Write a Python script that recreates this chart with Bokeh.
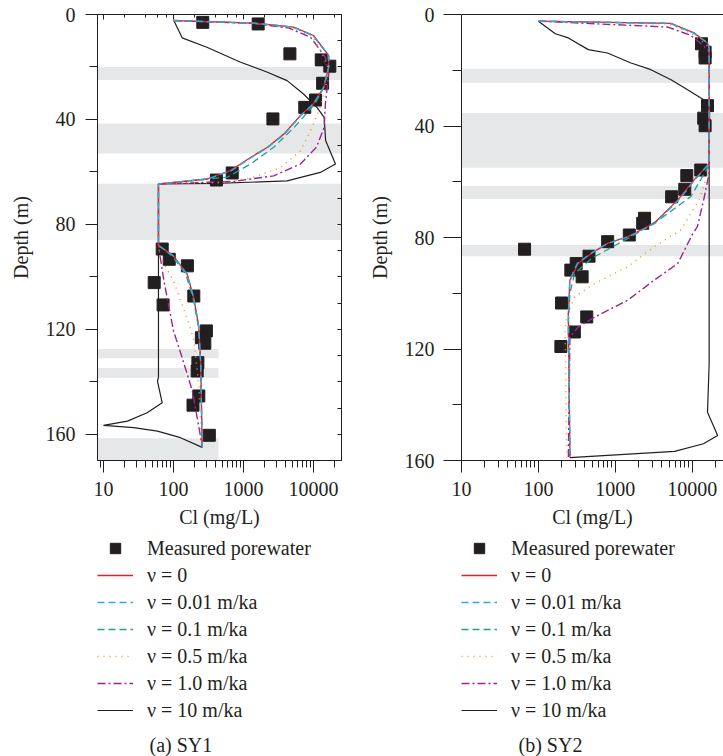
from bokeh.plotting import figure
from bokeh.models import (Range1d, LogAxis, LinearAxis, FixedTicker, LogTicker,
                          NumeralTickFormatter, Legend, LegendItem, Label)
from bokeh.layouts import row, column
from bokeh.embed import file_html
from bokeh.resources import INLINE

FONT = "Liberation Serif"
INK = "#231f20"
BAND = "#e6e7e9"

# ---------------- labels ----------------
series_labels = ["ν = 0", "ν = 0.01 m/ka", "ν = 0.1 m/ka", "ν = 0.5 m/ka",
                 "ν = 1.0 m/ka", "ν = 10 m/ka"]
measured_label = "Measured porewater"
x_label = "Cl (mg/L)"
y_label = "Depth (m)"
captions = ["(a)  SY1", "(b)  SY2"]
depth_ticks = [0, 40, 80, 120, 160]
depth_minor_ticks = [20, 60, 100, 140]

# ---------------- SY1 data ----------------
sy1_meas_cl = [262, 1620, 4600, 12900, 17100, 13500, 10700, 7500, 2630, 690, 410,
               69, 87, 158, 53, 195, 71, 295, 250, 280, 223, 218, 230, 190, 325]
sy1_meas_depth = [3.0, 3.6, 15.0, 17.3, 19.7, 26.2, 32.6, 35.4, 39.8, 60.4, 63.1,
                  89.4, 93.3, 95.8, 102.2, 107.3, 110.7, 120.6, 123.2, 125.3, 132.7,
                  135.9, 145.4, 148.9, 160.4]

sy1_v0_cl = [101, 1400, 5200, 10000, 16500, 16500, 14000, 10000, 6500, 3800, 2200,
             1260, 650, 300, 61, 61, 100, 157, 195, 230, 245, 257]
sy1_v0_depth = [2.3, 3.3, 4.8, 8.0, 15.6, 20.0, 27.7, 34.0, 38.5, 45.5, 50.6,
                54.5, 59.5, 62.7, 64.6, 88.0, 92.0, 99.0, 108.0, 119.0, 133.0, 165.0]

sy1_v001_cl = [101, 1400, 5100, 9900, 16400, 16500, 14000, 10000, 6600, 3900, 2250,
               1300, 670, 310, 61, 61, 99, 156, 194, 229, 245, 257]
sy1_v001_depth = [2.3, 3.3, 4.8, 8.0, 15.6, 20.0, 27.7, 34.0, 38.5, 45.5, 50.6,
                  54.5, 59.5, 62.7, 64.6, 88.0, 92.0, 99.0, 108.0, 119.0, 133.0, 165.0]

sy1_v01_cl = [101, 1400, 5100, 9800, 16400, 16500, 14200, 10500, 7500, 5300, 2700,
              1260, 590, 61, 61, 95, 150, 190, 228, 244, 257]
sy1_v01_depth = [2.3, 3.3, 4.8, 8.0, 15.6, 20.0, 27.7, 34.0, 38.5, 43.0, 50.6,
                 57.0, 62.0, 64.6, 88.0, 92.0, 99.0, 108.0, 119.0, 133.0, 165.0]

sy1_v05_cl = [101, 1400, 5000, 9500, 12600, 16000, 14800, 12000, 9100, 6500, 3400,
              1400, 590, 61, 61, 65, 100, 148, 195, 230, 245, 257]
sy1_v05_depth = [2.3, 3.3, 4.9, 8.3, 13.7, 20.0, 29.0, 36.6, 44.3, 52.0, 58.3,
                 62.0, 64.0, 64.6, 88.0, 92.6, 101.5, 114.0, 124.0, 141.0, 159.0, 165.0]

sy1_v1_cl = [101, 1400, 4500, 9100, 14800, 16500, 14800, 14200, 11000, 6500, 2700,
             730, 61, 61, 73, 100, 133, 186, 245, 257]
sy1_v1_depth = [2.3, 3.4, 5.2, 8.7, 16.3, 22.6, 34.0, 43.0, 50.6, 57.0, 61.5,
                63.6, 64.6, 88.0, 101.5, 120.6, 130.8, 143.5, 161.3, 165.0]

sy1_v10_cl = [101, 133, 300, 910, 2200, 4200, 7200, 11200, 14200, 14900, 20600,
              12500, 4200, 414, 61, 61, 59, 69, 42, 22, 10, 27, 59, 126, 257]
sy1_v10_depth = [2.3, 8.9, 12.5, 18.2, 22.0, 25.2, 30.3, 35.4, 39.2, 48.0, 57.0,
                 60.2, 63.4, 64.4, 64.6, 138.4, 139.7, 148.0, 151.8, 155.0, 156.6,
                 157.5, 158.8, 161.3, 165.0]

# clay layers (grey bands): top depth, bottom depth, right extent (mg/L)
sy1_layer_top = [20.0, 41.5, 64.5, 127.5, 134.7, 161.5]
sy1_layer_bottom = [25.0, 53.0, 86.0, 131.0, 138.5, 170.0]
sy1_layer_right = [25119, 25119, 25119, 440, 440, 440]

# ---------------- SY2 data ----------------
sy2_meas_cl = [13200, 14700, 14700, 15800, 14100, 14700, 12900, 8500, 8000, 5400,
               2400, 2270, 1520, 795, 66, 455, 310, 264, 370, 200, 425, 293, 196]
sy2_meas_depth = [10.5, 13.5, 15.6, 32.7, 37.2, 39.9, 55.8, 57.8, 62.7, 65.4,
                  73.1, 74.9, 79.1, 81.5, 84.2, 86.7, 89.3, 91.7, 94.1, 103.5,
                  108.5, 113.9, 119.1]

sy2_v0_cl = [100, 5300, 10500, 15800, 16600, 16600, 10500, 6500, 3200, 1450, 790,
             490, 330, 257, 245, 257]
sy2_v0_depth = [2.4, 3.2, 6.6, 10.2, 12.0, 53.4, 59.4, 66.5, 74.9, 79.7, 82.1,
                85.7, 89.3, 95.3, 107.3, 158.9]

sy2_v001_cl = [100, 5200, 10400, 15800, 16600, 16600, 10800, 6700, 3300, 1500, 800,
               480, 320, 255, 246, 257]
sy2_v001_depth = [2.4, 3.2, 6.6, 10.2, 12.0, 53.4, 59.4, 66.5, 74.9, 79.7, 82.1,
                  85.7, 89.3, 95.3, 107.3, 158.9]

sy2_v01_cl = [100, 5200, 10400, 15800, 16600, 16600, 9600, 4000, 1780, 490, 295,
              257, 245, 257]
sy2_v01_depth = [2.4, 3.2, 6.6, 10.2, 12.0, 54.0, 65.3, 73.0, 79.0, 87.5, 93.0,
                 100.0, 110.0, 158.9]

sy2_v05_cl = [100, 5000, 10000, 15500, 16600, 16600, 14100, 12300, 7100, 3200, 1450,
              540, 295, 234, 222, 234]
sy2_v05_depth = [2.4, 3.4, 7.0, 11.0, 13.0, 55.0, 61.7, 66.5, 77.3, 83.3, 90.5,
                 96.5, 101.3, 108.5, 113.3, 159.0]

sy2_v1_cl = [100, 4800, 9600, 16000, 16600, 16600, 14100, 11700, 10000, 6500, 3200,
             1450, 540, 330, 257, 245]
sy2_v1_depth = [2.4, 4.5, 7.5, 12.6, 14.0, 57.0, 66.5, 76.0, 79.0, 89.3, 95.3,
                102.5, 108.5, 112.1, 115.7, 159.0]

sy2_v10_cl = [100, 166, 245, 445, 790, 1600, 2900, 5300, 8700, 14100, 16600, 16600,
              15800, 21400, 14000, 5900, 257]
sy2_v10_depth = [2.4, 6.9, 8.4, 12.6, 13.8, 17.4, 19.8, 23.4, 27.0, 30.6, 31.5,
                 125.0, 142.7, 151.0, 154.0, 156.7, 159.0]

sy2_layer_top = [19.5, 35.3, 61.5, 82.7]
sy2_layer_bottom = [24.5, 55.0, 66.2, 86.7]
sy2_layer_right = [25500, 25500, 25500, 25500]

# ---------------- styles ----------------
line_colors = ["#ed1c24", "#29abe2", "#21a08f", "#f7941d", "#a0228f", INK]
line_dashes = ["solid", "7 4", "7 4", "1 5", "8 3 2 3", "solid"]
line_widths = [1.3, 1.4, 1.3, 1.5, 1.4, 1.2]
marker_size = 12
key_marker_size = 10


def style_text_axis(ax):
    ax.major_label_text_font = FONT
    ax.major_label_text_font_size = "20px"
    ax.major_label_text_color = INK
    ax.axis_label_text_font = FONT
    ax.axis_label_text_font_size = "20px"
    ax.axis_label_text_font_style = "normal"
    ax.axis_label_text_color = INK
    ax.axis_line_color = INK
    ax.major_tick_line_color = INK
    ax.minor_tick_line_color = INK


def hidden_labels(ax):
    ax.major_label_text_font_size = "1px"
    ax.major_label_text_alpha = 0
    ax.major_label_standoff = 0
    ax.axis_line_color = INK
    ax.major_tick_line_color = INK
    ax.minor_tick_line_color = INK


def make_plot(width, left_border, x_start, x_end, y_end, meas_cl, meas_depth,
              curves, layer_top, layer_bottom, layer_right, major_out, minor_out,
              right_frame):
    p = figure(width=width, height=535, output_backend="svg", toolbar_location=None,
               x_axis_type="log", x_range=Range1d(x_start, x_end),
               y_range=Range1d(y_end, 0),
               min_border_left=left_border, min_border_right=(19 if right_frame else 0),
               min_border_top=14, min_border_bottom=75)
    p.xgrid.visible = False
    p.ygrid.visible = False
    p.background_fill_color = "white"
    p.border_fill_color = "white"
    if right_frame:
        p.outline_line_color = INK
        p.outline_line_width = 1
    else:
        p.outline_line_color = None

    p.quad(left=[x_start] * len(layer_top), right=layer_right, top=layer_top,
           bottom=layer_bottom, fill_color=BAND, line_color=None)

    p.scatter(meas_cl, meas_depth, marker="square", size=marker_size,
              fill_color=INK, line_color=INK)

    for i in [5, 4, 3, 2, 0, 1]:
        cl, dp = curves[i]
        p.line(cl, dp, line_color=line_colors[i], line_dash=line_dashes[i],
               line_width=line_widths[i])

    xa = p.xaxis[0]
    style_text_axis(xa)
    xa.axis_label = x_label
    xa.formatter = NumeralTickFormatter(format="0")
    xa.major_tick_out = 12
    xa.major_tick_in = 0
    xa.minor_tick_out = 7
    xa.minor_tick_in = 0
    xa.major_label_standoff = 9
    xa.axis_label_standoff = 7

    ya = p.yaxis[0]
    style_text_axis(ya)
    ya.axis_label = y_label
    ya.ticker = FixedTicker(ticks=depth_ticks, minor_ticks=depth_minor_ticks)
    ya.major_tick_out = major_out
    ya.major_tick_in = 0
    ya.minor_tick_out = minor_out
    ya.minor_tick_in = 0
    ya.major_label_standoff = 10 if right_frame else 9
    ya.axis_label_standoff = 11

    top = LogAxis(ticker=LogTicker())
    hidden_labels(top)
    top.major_tick_out = 0
    top.minor_tick_out = 0
    top.major_tick_in = 5 if right_frame else 0
    top.minor_tick_in = 3 if right_frame else 0
    p.add_layout(top, "above")

    if right_frame:
        ra = LinearAxis(ticker=FixedTicker(ticks=list(range(10, 170, 10))))
        hidden_labels(ra)
        ra.major_tick_in = 4
        ra.major_tick_out = 0
        ra.minor_tick_in = 0
        ra.minor_tick_out = 0
        p.add_layout(ra, "right")
    return p


def make_legend(width, left_border, caption, caption_x, meas_cl, meas_depth, curves):
    # the key panel re-plots the same series, but its ranges lie where no data
    # falls, so only the legend's own glyph swatches are visible
    f = figure(width=width, height=221, output_backend="svg", toolbar_location=None,
               x_range=Range1d(-2, -1), y_range=Range1d(-2, -1),
               x_axis_location=None, y_axis_location=None,
               min_border_left=left_border, min_border_right=0,
               min_border_top=0, min_border_bottom=0)
    f.grid.visible = False
    f.outline_line_color = None
    f.background_fill_color = "white"
    f.border_fill_color = "white"
    sq = f.scatter(meas_cl, meas_depth, marker="square", size=key_marker_size,
                   fill_color=INK, line_color=INK)
    items = [LegendItem(label=measured_label, renderers=[sq])]
    for i in range(6):
        cl, dp = curves[i]
        r = f.line(cl, dp, line_color=line_colors[i], line_dash=line_dashes[i],
                   line_width=line_widths[i])
        items.append(LegendItem(label=series_labels[i], renderers=[r]))
    legend = Legend(items=items, location="top_left", orientation="vertical",
                    glyph_width=36, glyph_height=26, label_height=26, spacing=1,
                    padding=0, margin=0, label_standoff=14,
                    label_text_font=FONT, label_text_font_size="20px",
                    label_text_color=INK, border_line_alpha=0,
                    background_fill_alpha=0)
    f.add_layout(legend, "center")
    f.add_layout(Label(x=caption_x, y=12, x_units="screen", y_units="screen",
                       text=caption, text_font=FONT, text_font_size="20px",
                       text_color=INK, text_baseline="middle", text_align="left"))
    return f


sy1_curves = [(sy1_v0_cl, sy1_v0_depth), (sy1_v001_cl, sy1_v001_depth),
              (sy1_v01_cl, sy1_v01_depth), (sy1_v05_cl, sy1_v05_depth),
              (sy1_v1_cl, sy1_v1_depth), (sy1_v10_cl, sy1_v10_depth)]
sy2_curves = [(sy2_v0_cl, sy2_v0_depth), (sy2_v001_cl, sy2_v001_depth),
              (sy2_v01_cl, sy2_v01_depth), (sy2_v05_cl, sy2_v05_depth),
              (sy2_v1_cl, sy2_v1_depth), (sy2_v10_cl, sy2_v10_depth)]

p1 = make_plot(360, 97, 8.21, 25119, 170, sy1_meas_cl, sy1_meas_depth, sy1_curves,
               sy1_layer_top, sy1_layer_bottom, sy1_layer_right, 12, 8, True)
p2 = make_plot(363, 99, 10, 25500, 160, sy2_meas_cl, sy2_meas_depth, sy2_curves,
               sy2_layer_top, sy2_layer_bottom, sy2_layer_right, 18, 9, False)

l1 = make_legend(360, 95, captions[0], 52, sy1_meas_cl, sy1_meas_depth, sy1_curves)
l2 = make_legend(363, 101, captions[1], 57, sy2_meas_cl, sy2_meas_depth, sy2_curves)

layout = row(column(p1, l1), column(p2, l2))
open("out.html", "w").write(file_html(layout, INLINE))
